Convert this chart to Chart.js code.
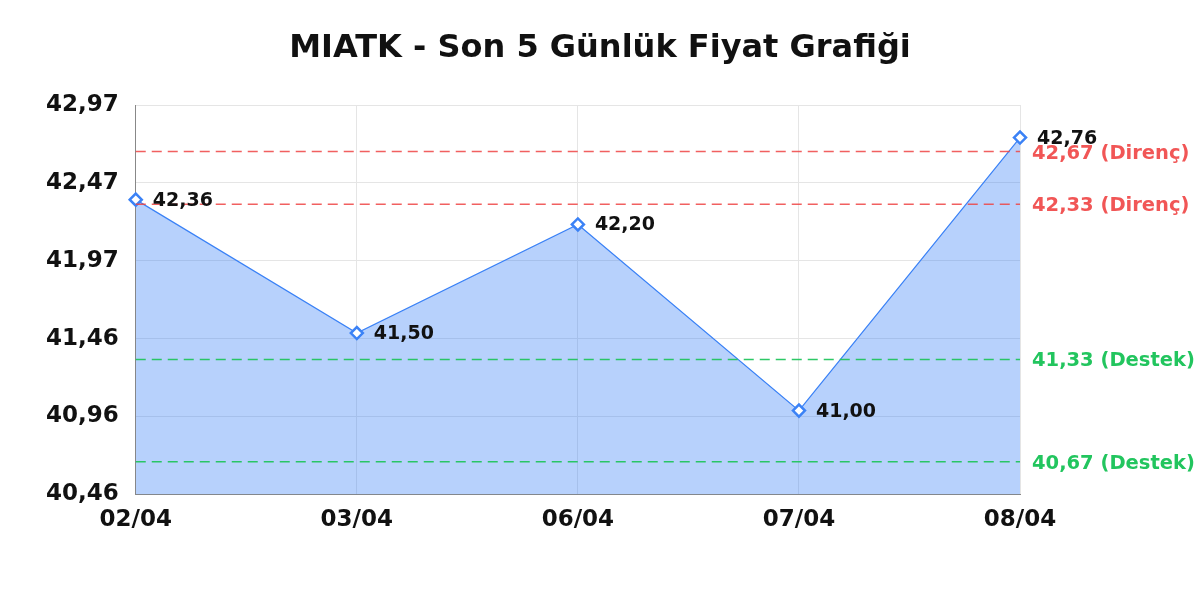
<!DOCTYPE html>
<html>
<head>
<meta charset="utf-8">
<script src="https://cdn.jsdelivr.net/npm/chart.js@4.4.0/dist/chart.umd.min.js"></script>
<style>
html,body{margin:0;padding:0;background:#fff;}
#wrap{width:1200px;height:600px;}
</style>
</head>
<body>
<div id="wrap"><canvas id="c" width="1200" height="600"></canvas></div>
<script>
const titleText = 'MIATK - Son 5 Günlük Fiyat Grafiği';
const categories = ['02/04', '03/04', '06/04', '07/04', '08/04'];
const prices = [42.36, 41.50, 42.20, 41.00, 42.76];
const yMin = 40.46;
const yMax = 42.97;
const resistanceLevels = [42.67, 42.33];
const supportLevels = [41.33, 40.67];
const resistanceLabel = 'Direnç';
const supportLabel = 'Destek';

const FONT = "'DejaVu Sans', sans-serif";
const fmt = v => v.toFixed(2).replace('.', ',');

const titlePlugin = {
  id: 'centerTitle',
  afterDraw(chart) {
    const ctx = chart.ctx;
    ctx.save();
    ctx.font = 'bold 32px ' + FONT;
    ctx.fillStyle = '#111';
    ctx.textAlign = 'center';
    ctx.textBaseline = 'middle';
    ctx.fillText(titleText, chart.width / 2, 49);
    ctx.restore();
  }
};

const levelsPlugin = {
  id: 'levels',
  afterDatasetsDraw(chart) {
    const ctx = chart.ctx;
    const area = chart.chartArea;
    const y = chart.scales.y;
    const draw = (val, lineColor, textColor, label) => {
      const py = y.getPixelForValue(val);
      ctx.save();
      ctx.strokeStyle = lineColor;
      ctx.lineWidth = 1.5;
      ctx.setLineDash([10, 6]);
      ctx.beginPath();
      ctx.moveTo(area.left, py);
      ctx.lineTo(area.right, py);
      ctx.stroke();
      ctx.setLineDash([]);
      ctx.fillStyle = textColor;
      ctx.font = 'bold 19.5px ' + FONT;
      ctx.textAlign = 'left';
      ctx.textBaseline = 'middle';
      ctx.fillText(fmt(val) + ' (' + label + ')', area.right + 12, py + 2);
      ctx.restore();
    };
    resistanceLevels.forEach(v => draw(v, 'rgba(239,68,68,0.85)', 'rgba(239,68,68,0.9)', resistanceLabel));
    supportLevels.forEach(v => draw(v, 'rgba(34,197,94,0.95)', 'rgb(34,197,94)', supportLabel));
  }
};

const labelsPlugin = {
  id: 'pointLabels',
  afterDraw(chart) {
    const ctx = chart.ctx;
    const meta = chart.getDatasetMeta(0);
    ctx.save();
    ctx.font = 'bold 19px ' + FONT;
    ctx.fillStyle = '#111';
    ctx.textAlign = 'left';
    ctx.textBaseline = 'middle';
    meta.data.forEach((pt, i) => {
      ctx.fillText(fmt(prices[i]), pt.x + 17, pt.y + 1);
    });
    ctx.restore();
  }
};

new Chart(document.getElementById('c'), {
  type: 'line',
  data: {
    labels: categories,
    datasets: [{
      data: prices,
      borderColor: '#3b82f6',
      borderWidth: 1.2,
      backgroundColor: 'rgba(59,130,246,0.37)',
      fill: 'start',
      tension: 0,
      pointStyle: 'rectRot',
      pointRadius: 6,
      pointBorderWidth: 2.5,
      pointBackgroundColor: '#fff',
      pointBorderColor: '#3b82f6'
    }]
  },
  options: {
    responsive: false,
    animation: false,
    devicePixelRatio: 1,
    layout: { padding: { left: 29, right: 180, top: 105, bottom: 54 } },
    plugins: {
      legend: { display: false },
      tooltip: { enabled: false },
      title: { display: false }
    },
    scales: {
      x: {
        grid: { color: '#e5e5e5', drawTicks: false },
        border: { color: '#888' },
        ticks: { color: '#111', padding: 12, font: { family: FONT, size: 23, weight: 'bold' }, maxRotation: 0 }
      },
      y: {
        min: yMin,
        max: yMax,
        grid: { color: '#e5e5e5', drawTicks: false },
        border: { color: '#888' },
        ticks: {
          stepSize: (yMax - yMin) / 5,
          color: '#111',
          padding: 17,
          font: { family: FONT, size: 23, weight: 'bold' },
          callback: v => fmt(v)
        }
      }
    }
  },
  plugins: [levelsPlugin, labelsPlugin, titlePlugin]
});
</script>
</body>
</html>
